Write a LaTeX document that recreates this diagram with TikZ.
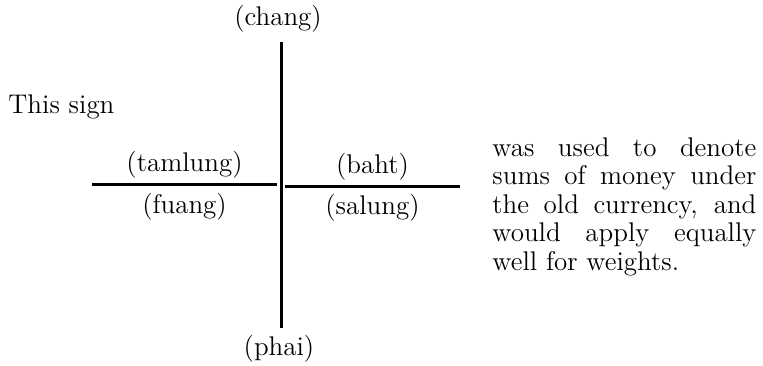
\documentclass[tikz,border=0pt]{standalone}
\usepackage{tikz}
\usetikzlibrary{positioning}

\begin{document}
\begin{tikzpicture}[
  x=0.5pt, y=-0.5pt,
  bar/.style={line width=1.5pt},
  lbl/.style={inner sep=1pt},
  every node/.style={font=\fontsize{13.5}{14.3}\selectfont}
]
  \useasboundingbox (0,0) rectangle (763,365);

  % Vertical stroke
  \coordinate (top) at (281,42);
  \coordinate (bot) at (281,328);
  \draw[bar] (top) -- (bot);
  \node[lbl, above=3.5pt of top, xshift=-1.5pt] (chang) {(chang)};
  \node[lbl, below=2.5pt of bot, xshift=-1pt] (phai) {(phai)};

  % Left stroke
  \coordinate (lw) at (92,184);
  \coordinate (le) at (277,184);
  \draw[bar] (lw) -- (le)
    node[lbl, midway, above=1pt] (tamlung) {(tamlung)}
    node[lbl, midway, below=3pt] (fuang) {(fuang)};

  % Right stroke
  \coordinate (rw) at (285,186);
  \coordinate (re) at (460,186);
  \draw[bar] (rw) -- (re)
    node[lbl, midway, above=1pt] (baht) {(baht)}
    node[lbl, midway, below=2.5pt] (salung) {(salung)};

  % Text
  \node[inner sep=0pt, anchor=base west] (sign) at (8,113) {This sign};
  \node[inner sep=0pt, anchor=north west, text width=132pt, align=justify] (note) at (492,137)
    {was used to denote\linebreak sums of money under\linebreak the old currency, and\linebreak
     would apply equally\linebreak well for weights.};
\end{tikzpicture}
\end{document}
